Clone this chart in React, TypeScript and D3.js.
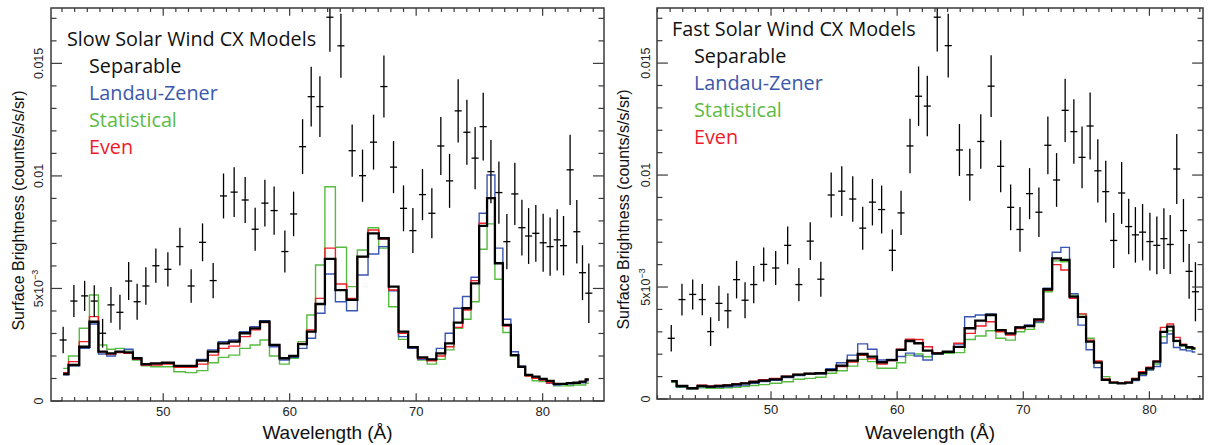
import React from 'react'
import * as d3 from 'd3'

// wavelength of each observed bin (Angstrom)
const wavelength = [
  42.09, 42.94, 43.79, 44.55, 45.21, 45.87, 46.58, 47.27, 47.94, 48.63,
  49.42, 50.37, 51.32, 52.21, 53.11, 53.95, 54.77, 55.61, 56.48, 57.27,
  58.04, 58.77, 59.62, 60.31, 61.02, 61.7, 62.39, 63.18, 64.05, 64.94,
  65.76, 66.63, 67.45, 68.21, 69.0, 69.74, 70.5, 71.24, 71.95, 72.64,
  73.32, 74.01, 74.66, 75.3, 75.91, 76.54, 77.17, 77.8, 78.36, 78.89,
  79.46, 80.04, 80.59, 81.15, 81.65, 82.17, 82.7, 83.15, 83.65,
]

// all brightness values below in units of 1e-3 counts/s/s/sr
const observed = [
  2.71, 4.44, 4.67, 4.44, 3.01, 4.27, 3.94, 5.33, 4.41, 5.11,
  6.01, 5.85, 6.86, 5.11, 7.05, 5.35, 9.11, 9.28, 8.93, 7.63,
  8.79, 8.46, 6.64, 8.31, 11.3, 13.52, 13.08, 17.05, 15.78, 11.12,
  10.01, 11.5, 13.97, 10.39, 8.56, 7.57, 9.17, 8.34, 11.33, 9.78,
  12.89, 11.94, 10.79, 12.19, 10.19, 9.26, 7.08, 9.2, 7.7, 7.33,
  7.45, 7.03, 6.86, 7.16, 6.9, 10.27, 7.52, 5.7, 4.79,
]
const observedErr = [
  0.59, 0.71, 0.67, 0.7, 0.64, 0.79, 0.78, 0.84, 0.8, 0.83,
  0.76, 0.76, 0.84, 0.74, 0.84, 0.78, 1.0, 1.11, 1.02, 0.96,
  1.04, 1.07, 0.93, 0.99, 1.22, 1.33, 1.35, 1.53, 1.42, 1.16,
  1.16, 1.22, 1.38, 1.16, 1.02, 1.0, 1.14, 1.11, 1.29, 1.2,
  1.41, 1.44, 1.38, 1.5, 1.41, 1.38, 1.23, 1.38, 1.24, 1.24,
  1.26, 1.29, 1.29, 1.36, 1.32, 1.56, 1.41, 1.22, 1.32,
]

const slowSeparable = [
  1.2, 1.6, 2.41, 3.52, 2.19, 2.12, 2.19, 2.16, 1.9, 1.64,
  1.67, 1.7, 1.56, 1.56, 1.79, 2.19, 2.56, 2.64, 3.01, 3.23,
  3.52, 2.49, 1.9, 2.0, 2.53, 3.08, 4.31, 6.31, 4.93, 4.49,
  6.41, 7.45, 7.23, 5.08, 3.08, 2.39, 1.94, 1.85, 2.12, 2.56,
  3.48, 4.12, 5.23, 7.78, 9.01, 6.12, 3.38, 2.04, 1.52, 1.16,
  1.08, 0.98, 0.89, 0.76, 0.76, 0.79, 0.81, 0.86, 0.96,
]
const slowLandauZener = [
  1.16, 1.56, 2.34, 3.42, 2.09, 2.0, 2.19, 2.3, 1.85, 1.6,
  1.64, 1.67, 1.52, 1.56, 1.85, 2.27, 2.64, 2.71, 3.08, 3.3,
  3.57, 2.41, 1.82, 1.94, 2.34, 2.79, 3.9, 5.64, 4.41, 4.01,
  5.6, 6.53, 6.86, 4.9, 2.86, 2.34, 1.85, 1.85, 2.34, 3.01,
  4.12, 4.64, 5.5, 8.34, 10.04, 6.79, 3.63, 2.19, 1.56, 1.16,
  1.01, 0.93, 0.79, 0.71, 0.74, 0.76, 0.79, 0.81, 0.9,
]
const slowStatistical = [
  1.45, 2.0, 3.23, 4.71, 2.49, 2.3, 2.34, 2.27, 1.82, 1.56,
  1.52, 1.52, 1.3, 1.26, 1.35, 1.7, 1.94, 2.04, 2.34, 2.49,
  2.71, 2.0, 1.64, 1.9, 2.64, 3.82, 6.04, 9.52, 6.83, 5.08,
  6.71, 7.7, 6.79, 4.19, 2.74, 2.34, 1.82, 1.64, 1.85, 2.27,
  3.23, 3.63, 4.41, 6.74, 7.87, 5.41, 3.04, 2.0, 1.5, 1.11,
  0.9, 0.86, 0.79, 0.67, 0.67, 0.68, 0.71, 0.71, 0.79,
]
const slowEven = [
  1.26, 1.75, 2.64, 3.75, 2.19, 2.09, 2.15, 2.12, 1.85, 1.6,
  1.6, 1.64, 1.5, 1.5, 1.64, 2.04, 2.34, 2.44, 2.86, 3.16,
  3.48, 2.49, 1.9, 2.0, 2.56, 3.16, 4.56, 6.79, 5.2, 4.56,
  6.41, 7.6, 7.19, 4.93, 3.01, 2.39, 1.9, 1.79, 2.0, 2.41,
  3.27, 4.04, 5.35, 7.9, 9.01, 6.12, 3.33, 2.04, 1.52, 1.11,
  1.01, 0.93, 0.81, 0.76, 0.76, 0.79, 0.81, 0.86, 0.96,
]

const fastSeparable = [
  0.8, 0.58, 0.48, 0.59, 0.55, 0.58, 0.61, 0.65, 0.7, 0.76,
  0.82, 0.88, 1.0, 1.09, 1.13, 1.15, 1.29, 1.49, 1.71, 2.01,
  1.89, 1.64, 1.74, 2.19, 2.59, 2.49, 2.16, 2.04, 2.11, 2.33,
  3.16, 3.5, 3.75, 3.08, 2.93, 3.2, 3.26, 3.56, 4.9, 6.28,
  6.21, 4.57, 3.67, 2.56, 1.62, 0.85, 0.73, 0.7, 0.73, 0.88,
  1.15, 1.37, 1.67, 3.0, 3.23, 2.6, 2.41, 2.31, 2.26,
]
const fastLandauZener = [
  0.8, 0.55, 0.47, 0.55, 0.52, 0.53, 0.55, 0.58, 0.62, 0.7,
  0.78, 0.84, 0.96, 1.05, 1.1, 1.12, 1.35, 1.62, 1.96, 2.46,
  2.22, 1.74, 1.77, 1.9, 2.05, 1.92, 1.74, 2.01, 2.11, 2.45,
  3.67, 3.75, 3.8, 3.05, 2.9, 3.22, 3.3, 3.45, 4.95, 6.55,
  6.77, 4.7, 3.3, 2.2, 1.4, 0.85, 0.73, 0.7, 0.73, 0.82,
  1.05, 1.3, 1.45, 2.5, 2.9, 2.3, 2.2, 2.15, 2.1,
]
const fastStatistical = [
  0.75, 0.52, 0.45, 0.5, 0.48, 0.48, 0.5, 0.52, 0.56, 0.6,
  0.64, 0.7, 0.77, 0.88, 0.92, 0.97, 1.15, 1.26, 1.47, 1.77,
  1.67, 1.37, 1.37, 1.62, 1.96, 2.01, 1.89, 2.01, 2.04, 2.07,
  2.66, 2.81, 3.05, 2.71, 2.63, 3.0, 3.11, 3.41, 4.79, 6.17,
  6.13, 4.64, 3.79, 2.71, 1.67, 1.0, 0.73, 0.7, 0.73, 0.92,
  1.12, 1.29, 1.56, 2.78, 3.05, 2.56, 2.37, 2.26, 2.22,
]
const fastEven = [
  0.8, 0.58, 0.5, 0.62, 0.58, 0.6, 0.63, 0.68, 0.72, 0.8,
  0.86, 0.92, 1.02, 1.1, 1.14, 1.15, 1.28, 1.45, 1.65, 1.95,
  1.8, 1.56, 1.72, 2.22, 2.67, 2.66, 2.33, 2.07, 2.1, 2.49,
  2.93, 3.26, 3.45, 3.0, 2.86, 3.15, 3.25, 3.5, 4.85, 6.0,
  5.76, 4.5, 3.8, 2.63, 1.7, 0.9, 0.75, 0.7, 0.75, 0.92,
  1.22, 1.42, 1.7, 3.2, 3.35, 2.75, 2.45, 2.32, 2.28,
]

const legendNames = ['Separable', 'Landau-Zener', 'Statistical', 'Even']
const legendColors = ['#111111', '#3b58ab', '#5dba45', '#ec1c2a']
const lineColors = ['#000000', '#3a56b3', '#57bb40', '#ee1f26']
const xMajor = [50, 60, 70, 80]
const yMajor = [0, 5, 10, 15]

const sans = '"Liberation Sans", Arial, Helvetica, sans-serif'
const legendFont = '"Open Sans", "Noto Sans", sans-serif'

function Panel({ id, title, models, box, xDomain, legend, yTitleX, yLabelGap }) {
  const x = d3.scaleLinear().domain(xDomain).range([box.left, box.right])
  const y = d3.scaleLinear().domain([0, 17.46]).range([box.bottom, box.top])
  const step = d3
    .line()
    .x((d) => x(d[0]))
    .y((d) => y(d[1]))
    .curve(d3.curveStep)

  const w = box.right - box.left
  const h = box.bottom - box.top
  const xTickLen = h * 0.02
  const yTickLen = w * 0.02
  const xMinor = d3.range(Math.ceil(xDomain[0]), Math.floor(xDomain[1]) + 1)
  const yMinor = d3.range(0, 18)
  const axisColor = '#3a3a3a'

  // draw order: statistical, landau-zener, even, separable on top
  const order = [2, 1, 3, 0]

  return (
    <g>
      <defs>
        <clipPath id={id}>
          <rect x={box.left} y={box.top} width={w} height={h} />
        </clipPath>
      </defs>

      <g clipPath={`url(#${id})`}>
        {order.map((k) => (
          <path
            key={k}
            d={step(wavelength.map((wl, i) => [wl, models[k][i]]))}
            fill="none"
            stroke={lineColors[k]}
            strokeWidth={k === 0 ? 2.3 : 1.4}
          />
        ))}
        {wavelength.map((wl, i) => (
          <g key={i} stroke="#000" strokeWidth={1.3}>
            <line x1={x(wl)} x2={x(wl)} y1={y(observed[i] - observedErr[i])} y2={y(observed[i] + observedErr[i])} />
            <line x1={x(wl - 0.28)} x2={x(wl + 0.28)} y1={y(observed[i])} y2={y(observed[i])} />
          </g>
        ))}
      </g>

      {/* frame */}
      <rect x={box.left} y={box.top} width={w} height={h} fill="none" stroke={axisColor} strokeWidth={1.5} />

      {/* x ticks, bottom and top, pointing inward */}
      {xMinor.map((t) => {
        const len = xMajor.includes(t) ? xTickLen : xTickLen / 2
        return (
          <g key={'x' + t} stroke={axisColor} strokeWidth={1.2}>
            <line x1={x(t)} x2={x(t)} y1={box.bottom} y2={box.bottom - len} />
            <line x1={x(t)} x2={x(t)} y1={box.top} y2={box.top + len} />
          </g>
        )
      })}
      {yMinor.map((t) => {
        const len = yMajor.includes(t) ? yTickLen : yTickLen / 2
        return (
          <g key={'y' + t} stroke={axisColor} strokeWidth={1.2}>
            <line x1={box.left} x2={box.left + len} y1={y(t)} y2={y(t)} />
            <line x1={box.right} x2={box.right - len} y1={y(t)} y2={y(t)} />
          </g>
        )
      })}

      {/* tick labels */}
      {xMajor.map((t) => (
        <text key={'xl' + t} x={x(t)} y={box.bottom + 15} textAnchor="middle" fontFamily={sans} fontSize={13} fill="#222">
          {t}
        </text>
      ))}
      {yMajor.map((t) => (
        <text
          key={'yl' + t}
          transform={`translate(${box.left - yLabelGap},${y(t)}) rotate(-90)`}
          textAnchor="middle"
          fontFamily={sans}
          fontSize={12.5}
          fill="#222"
        >
          {t === 0 && '0'}
          {t === 5 && (
            <>
              5x10
              <tspan dy={-5} fontSize={9}>
                −3
              </tspan>
            </>
          )}
          {t === 10 && '0.01'}
          {t === 15 && '0.015'}
        </text>
      ))}

      {/* axis titles */}
      <text x={(box.left + box.right) / 2} y={439} textAnchor="middle" fontFamily={sans} fontSize={19} fill="#111">
        Wavelength (Å)
      </text>
      <text
        transform={`translate(${yTitleX},${(box.top + box.bottom) / 2 + 6}) rotate(-90)`}
        textAnchor="middle"
        fontFamily={sans}
        fontSize={16}
        fill="#111"
      >
        Surface Brightness (counts/s/s/sr)
      </text>

      {/* legend */}
      <text x={legend.x} y={legend.y} fontFamily={legendFont} fontSize={19.8} fill="#111">
        {title}
      </text>
      {legendNames.map((name, k) => (
        <text
          key={name}
          x={legend.x + 22}
          y={legend.y + 27 * (k + 1)}
          fontFamily={legendFont}
          fontSize={19.8}
          fill={legendColors[k]}
        >
          {name}
        </text>
      ))}
    </g>
  )
}

export default function App() {
  return (
    <svg
      width={1212}
      height={445}
      style={{ position: 'absolute', left: 0, top: 0, background: '#fff' }}
    >
      <Panel
        id="clipSlow"
        title="Slow Solar Wind CX Models"
        models={[slowSeparable, slowLandauZener, slowStatistical, slowEven]}
        box={{ left: 51, right: 604, top: 8, bottom: 401 }}
        xDomain={[41.13, 84.85]}
        legend={{ x: 67, y: 45.5 }}
        yTitleX={24}
        yLabelGap={8}
      />
      <Panel
        id="clipFast"
        title="Fast Solar Wind CX Models"
        models={[fastSeparable, fastLandauZener, fastStatistical, fastEven]}
        box={{ left: 657, right: 1203, top: 8, bottom: 399 }}
        xDomain={[40.96, 84.25]}
        legend={{ x: 672, y: 36 }}
        yTitleX={629}
        yLabelGap={7}
      />
    </svg>
  )
}
